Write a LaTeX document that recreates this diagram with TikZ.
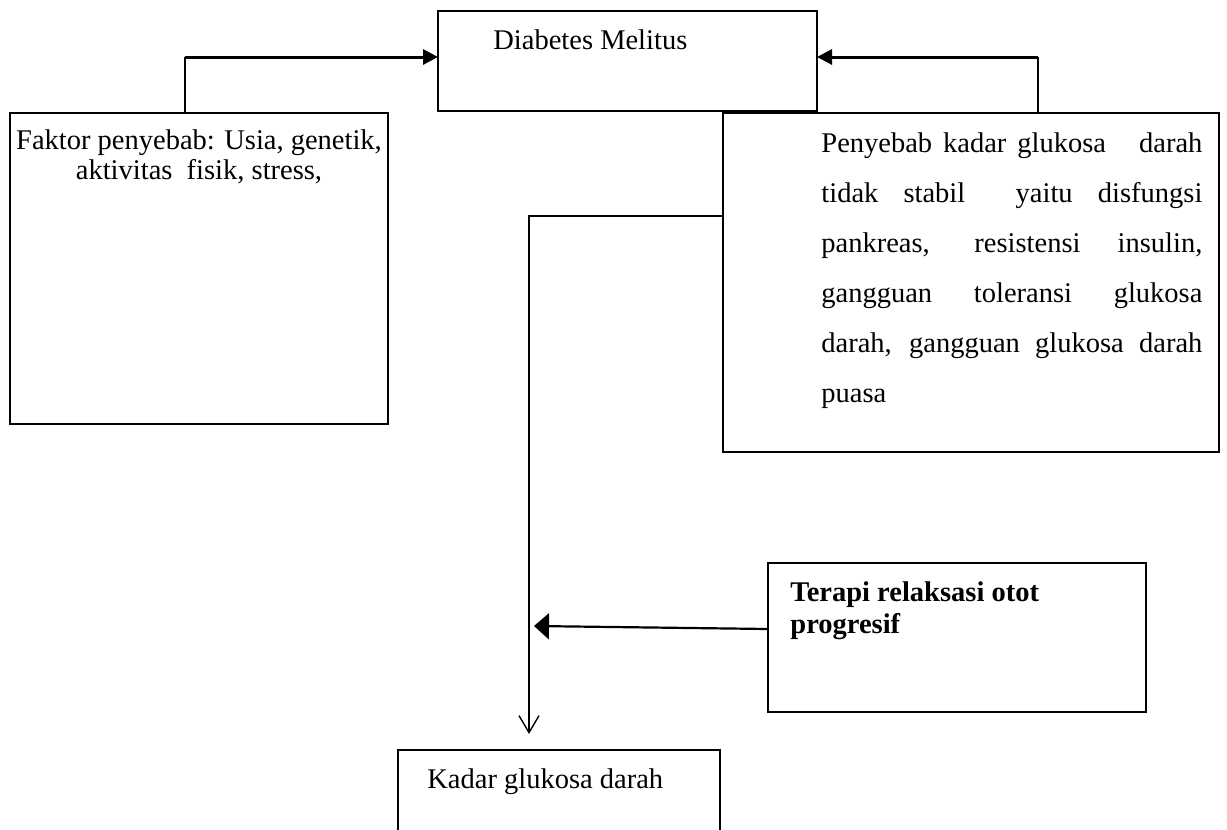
\documentclass[tikz,border=0pt]{standalone}
\usepackage{fontspec}
\setmainfont{Liberation Serif}
\usetikzlibrary{arrows.meta,calc}
\begin{document}
\begin{tikzpicture}[x=0.5pt,y=-0.5pt,
  box/.style={draw, line width=0.85pt, inner sep=0pt, outer sep=0pt, anchor=north west},
  txt/.style={inner sep=0pt, anchor=base west, font=\fontsize{14.25pt}{17pt}\selectfont},
  ctxt/.style={txt, anchor=base},
  thinline/.style={line width=0.7pt},
  boldline/.style={line width=1.5pt},
  toparrow/.style={boldline, -{Triangle[length=7.5pt,width=7.5pt]}},
  midarrow/.style={line width=1.1pt, -{Triangle[length=7.5pt,width=13pt]}},
  downarrow/.style={thinline, -{Straight Barb[length=8.5pt,width=10pt]}, shorten >=8pt}
]
\clip (0,0) rectangle (1227,830);
\fill[white] (0,0) rectangle (1227,830);

% boxes
\node[box, minimum width=189.5pt, minimum height=50pt] (tb) at (438,11) {};
\node[box, minimum width=189pt, minimum height=155.5pt] (lb) at (10,113) {};
\node[box, minimum width=248pt, minimum height=169.5pt] (rb) at (723,113) {};
\node[box, minimum width=189pt, minimum height=74.5pt] (tp) at (768,563) {};
\node[box, minimum width=161pt, minimum height=60pt] (kb) at (398,750) {};

% texts
\node[txt] (tbt) at (493,49) {Diabetes Melitus};
\node[ctxt] (lbt1) at (199,149) {Faktor penyebab: Usia, genetik,};
\node[ctxt] (lbt2) at (199,179) {aktivitas\ \ fisik, stress,};
\node[txt] (rbt1) at (821,152) {\makebox[190.5pt][s]{Penyebab kadar glukosa\ \ \ darah}};
\node[txt] (rbt2) at (821,202) {\makebox[190.5pt][s]{tidak stabil\ \ yaitu disfungsi}};
\node[txt] (rbt3) at (821,252) {\makebox[190.5pt][s]{pankreas, resistensi insulin,}};
\node[txt] (rbt4) at (821,302) {\makebox[190.5pt][s]{gangguan toleransi glukosa}};
\node[txt] (rbt5) at (821,352) {\makebox[190.5pt][s]{darah, gangguan glukosa darah}};
\node[txt] (rbt6) at (821,402) {puasa};
\node[txt, font=\fontsize{14.25pt}{17pt}\selectfont\bfseries] (tpt1) at (790,601) {Terapi relaksasi otot};
\node[txt, font=\fontsize{14.25pt}{17pt}\selectfont\bfseries] (tpt2) at (790,633) {progresif};
\node[txt] (kbt) at (427,788) {Kadar glukosa darah};

% connectors
\coordinate (lc) at (185,57);
\draw[thinline] (lc |- lb.north) -- (lc);
\draw[toparrow] (lc) -- (lc -| tb.west);

\coordinate (rc) at (1038,57);
\draw[thinline] (rc |- rb.north) -- (rc);
\draw[toparrow] (rc) -- (rc -| tb.east);

\coordinate (mc) at (529,216);
\draw[downarrow] (mc -| rb.west) -- (mc) -- (mc |- kb.north);

\coordinate (ta) at (534,626);
\draw[midarrow] ($(tp.west)+(0,-8.5)$) -- (ta);
\end{tikzpicture}
\end{document}
